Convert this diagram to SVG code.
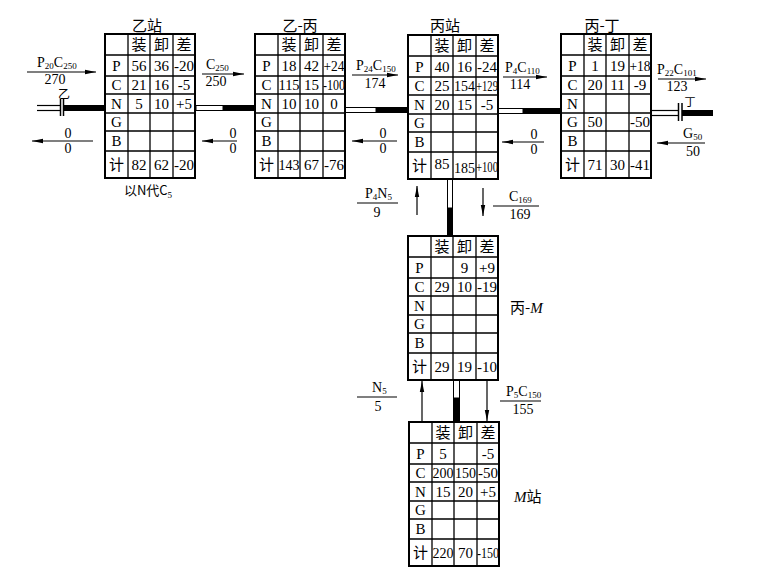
<svg xmlns="http://www.w3.org/2000/svg" xmlns:xlink="http://www.w3.org/1999/xlink" width="768" height="579" viewBox="0 0 768 579">
<style>
.outer{fill:#fff;stroke:#000;stroke-width:2}
.inner{fill:none;stroke:#000;stroke-width:1.3}
text{font-family:"Liberation Serif","Noto Sans CJK SC",serif;fill:#000}
.t{font-size:15px;text-anchor:middle}
.h{font-size:15px;text-anchor:middle;font-family:"Noto Sans CJK SC",sans-serif}
.ttl{font-size:15px;text-anchor:middle;font-family:"Noto Sans CJK SC",sans-serif}
.l{font-size:14px}
.c{text-anchor:middle}
.s{font-size:9px}
.ar{stroke:#000;stroke-width:1.2;fill:none}
.fb{stroke:#000;stroke-width:1.2}
.hol{fill:#fff;stroke:#000;stroke-width:1}
.blk{fill:#000}
.tk{stroke:#000;stroke-width:1.5}
</style>
<defs>
<marker id="ah" markerUnits="userSpaceOnUse" markerWidth="12" markerHeight="6" refX="11" refY="3" orient="auto">
<path d="M0,0.8 L11,3 L0,5.2 Z" fill="#000"/>
</marker>
<g id="grid">
<rect class="outer" x="0" y="0" width="90" height="144"/>
<path class="inner" d="M23,0V144M45,0V144M68,0V144M0,21H90M0,42H90M0,60H90M0,79H90M0,97H90M0,117H90"/>
</g>
</defs>

<g id="connectors">
<!-- main line tracks -->
<line class="fb" x1="37" y1="105.5" x2="61" y2="105.5" stroke-width="1"/>
<line class="fb" x1="37" y1="110.5" x2="61" y2="110.5" stroke-width="1"/>
<line class="tk" x1="60.5" y1="99" x2="60.5" y2="116"/>
<line class="tk" x1="63.5" y1="99" x2="63.5" y2="116"/>
<rect class="blk" x="63" y="105" width="42" height="6"/>

<rect class="hol" x="196" y="105.5" width="27" height="5"/>
<rect class="blk" x="223" y="105" width="32" height="6"/>

<rect class="hol" x="345" y="107.5" width="31" height="5"/>
<rect class="blk" x="376" y="107" width="32" height="6"/>

<rect class="hol" x="498" y="108.5" width="25" height="5"/>
<rect class="blk" x="523" y="108" width="38" height="6"/>

<line class="fb" x1="651" y1="110.5" x2="679" y2="110.5" stroke-width="1"/>
<line class="fb" x1="651" y1="115.5" x2="679" y2="115.5" stroke-width="1"/>
<line class="tk" x1="678.5" y1="103" x2="678.5" y2="121"/>
<line class="tk" x1="682" y1="103" x2="682" y2="121"/>
<rect class="blk" x="682" y="110" width="31" height="6"/>

<!-- vertical tracks -->
<rect class="hol" x="447.5" y="179" width="5" height="29"/>
<rect class="blk" x="447" y="208" width="6" height="28"/>
<rect class="hol" x="453.5" y="380" width="6" height="18"/>
<rect class="blk" x="453" y="398" width="7" height="24"/>

<!-- horizontal flow arrows -->
<line class="ar" x1="27" y1="72" x2="96" y2="72" marker-end="url(#ah)"/>
<line class="ar" x1="93" y1="141" x2="32" y2="141" marker-end="url(#ah)"/>
<line class="ar" x1="202" y1="74" x2="244" y2="74" marker-end="url(#ah)"/>
<line class="ar" x1="237" y1="141" x2="202" y2="141" marker-end="url(#ah)"/>
<line class="ar" x1="352" y1="75" x2="398" y2="75" marker-end="url(#ah)"/>
<line class="ar" x1="397" y1="141" x2="352" y2="141" marker-end="url(#ah)"/>
<line class="ar" x1="503" y1="77" x2="547" y2="77" marker-end="url(#ah)"/>
<line class="ar" x1="544" y1="142" x2="502" y2="142" marker-end="url(#ah)"/>
<line class="ar" x1="658" y1="79" x2="706" y2="79" marker-end="url(#ah)"/>
<line class="ar" x1="705" y1="143" x2="657" y2="143" marker-end="url(#ah)"/>

<!-- vertical flow arrows -->
<line class="ar" x1="417" y1="215" x2="417" y2="186" marker-end="url(#ah)"/>
<line class="ar" x1="483" y1="188" x2="483" y2="216" marker-end="url(#ah)"/>
<line class="ar" x1="422" y1="422" x2="422" y2="381" marker-end="url(#ah)"/>
<line class="ar" x1="487" y1="380" x2="487" y2="421" marker-end="url(#ah)"/>

<!-- fraction bars -->
<line class="fb" x1="357" y1="203" x2="398" y2="203"/>
<line class="fb" x1="493" y1="206" x2="539" y2="206"/>
<line class="fb" x1="357" y1="397" x2="397" y2="397"/>
<line class="fb" x1="500" y1="401" x2="541" y2="401"/>
</g>

<g id="flow-labels">
<text class="l" x="37" y="67">P<tspan class="s" dy="2">20</tspan><tspan dy="-2">C</tspan><tspan class="s" dy="2">250</tspan></text>
<text class="l c" x="55" y="84">270</text>
<text class="l c" x="68" y="138">0</text>
<text class="l c" x="68" y="153">0</text>

<text class="l" x="206" y="69">C<tspan class="s" dy="2">250</tspan></text>
<text class="l c" x="216" y="86">250</text>
<text class="l c" x="233" y="138">0</text>
<text class="l c" x="233" y="153">0</text>

<text class="l" x="356" y="70">P<tspan class="s" dy="2">24</tspan><tspan dy="-2">C</tspan><tspan class="s" dy="2">150</tspan></text>
<text class="l c" x="375" y="88">174</text>
<text class="l c" x="383" y="138">0</text>
<text class="l c" x="383" y="153">0</text>

<text class="l" x="505" y="72">P<tspan class="s" dy="2">4</tspan><tspan dy="-2">C</tspan><tspan class="s" dy="2">110</tspan></text>
<text class="l c" x="520" y="89">114</text>
<text class="l c" x="534" y="139">0</text>
<text class="l c" x="534" y="154">0</text>

<text class="l" x="657" y="74">P<tspan class="s" dy="2">22</tspan><tspan dy="-2">C</tspan><tspan class="s" dy="2">101</tspan></text>
<text class="l c" x="677" y="91">123</text>
<text class="l" x="683" y="138">G<tspan class="s" dy="2">50</tspan></text>
<text class="l c" x="693" y="156">50</text>

<text class="l" x="365" y="198">P<tspan class="s" dy="2">4</tspan><tspan dy="-2">N</tspan><tspan class="s" dy="2">5</tspan></text>
<text class="l c" x="377" y="217">9</text>
<text class="l" x="509" y="201">C<tspan class="s" dy="2">169</tspan></text>
<text class="l c" x="520" y="219">169</text>

<text class="l" x="372" y="392">N<tspan class="s" dy="2">5</tspan></text>
<text class="l c" x="378" y="411">5</text>
<text class="l" x="506" y="396">P<tspan class="s" dy="2">5</tspan><tspan dy="-2">C</tspan><tspan class="s" dy="2">150</tspan></text>
<text class="l c" x="523" y="414">155</text>

<text class="ttl" x="64" y="99" style="font-size:12px">乙</text>
<text class="ttl" x="690" y="106" style="font-size:11px">丁</text>
</g>

<g id="node-yi">
<text class="ttl" x="147" y="31">乙站</text>
<g transform="translate(105,34)">
<use xlink:href="#grid"/>
<text class="h" x="34" y="16">装</text><text class="h" x="56.5" y="16">卸</text><text class="h" x="79" y="16">差</text>
<text class="t" x="11.5" y="37">P</text><text class="t" x="11.5" y="56">C</text><text class="t" x="11.5" y="75">N</text><text class="t" x="11.5" y="93">G</text><text class="t" x="11.5" y="112">B</text><text class="h" x="11.5" y="136">计</text>
<text class="t" x="34" y="37">56</text><text class="t" x="56.5" y="37">36</text><text class="t" x="79" y="37">-20</text>
<text class="t" x="34" y="56">21</text><text class="t" x="56.5" y="56">16</text><text class="t" x="79" y="56">-5</text>
<text class="t" x="34" y="75">5</text><text class="t" x="56.5" y="75">10</text><text class="t" x="79" y="75">+5</text>
<text class="t" x="34" y="136">82</text><text class="t" x="56.5" y="136">62</text><text class="t" x="79" y="136">-20</text>
</g>
<text class="ttl" x="148" y="195" style="font-size:13px">以N代C<tspan class="s" dy="3" style="font-family:'Liberation Serif',serif">5</tspan></text>
</g>

<g id="node-yi-bing">
<text class="ttl" x="300" y="31">乙-丙</text>
<g transform="translate(255,34)">
<use xlink:href="#grid"/>
<text class="h" x="34" y="16">装</text><text class="h" x="56.5" y="16">卸</text><text class="h" x="79" y="16">差</text>
<text class="t" x="11.5" y="37">P</text><text class="t" x="11.5" y="56">C</text><text class="t" x="11.5" y="75">N</text><text class="t" x="11.5" y="93">G</text><text class="t" x="11.5" y="112">B</text><text class="h" x="11.5" y="136">计</text>
<text class="t" x="34" y="37">18</text><text class="t" x="56.5" y="37">42</text><text class="t" x="79" y="37" textLength="21" lengthAdjust="spacingAndGlyphs">+24</text>
<text class="t" x="34" y="56" textLength="21" lengthAdjust="spacingAndGlyphs">115</text><text class="t" x="56.5" y="56">15</text><text class="t" x="79" y="56" textLength="22" lengthAdjust="spacingAndGlyphs">-100</text>
<text class="t" x="34" y="75">10</text><text class="t" x="56.5" y="75">10</text><text class="t" x="79" y="75">0</text>
<text class="t" x="34" y="136" textLength="21" lengthAdjust="spacingAndGlyphs">143</text><text class="t" x="56.5" y="136">67</text><text class="t" x="79" y="136">-76</text>
</g>
</g>

<g id="node-bing">
<text class="ttl" x="445" y="31">丙站</text>
<g transform="translate(408,35)">
<use xlink:href="#grid"/>
<text class="h" x="34" y="16">装</text><text class="h" x="56.5" y="16">卸</text><text class="h" x="79" y="16">差</text>
<text class="t" x="11.5" y="37">P</text><text class="t" x="11.5" y="56">C</text><text class="t" x="11.5" y="75">N</text><text class="t" x="11.5" y="93">G</text><text class="t" x="11.5" y="112">B</text><text class="h" x="11.5" y="136">计</text>
<text class="t" x="34" y="37">40</text><text class="t" x="56.5" y="37">16</text><text class="t" x="79" y="37">-24</text>
<text class="t" x="34" y="56">25</text><text class="t" x="56.5" y="56" textLength="21" lengthAdjust="spacingAndGlyphs">154</text><text class="t" x="79" y="56" textLength="22" lengthAdjust="spacingAndGlyphs">+129</text>
<text class="t" x="34" y="75">20</text><text class="t" x="56.5" y="75">15</text><text class="t" x="79" y="75">-5</text>
<text class="t" x="34" y="134">85</text><text class="t" x="56.5" y="138" textLength="21" lengthAdjust="spacingAndGlyphs">185</text><text class="t" x="79" y="137" textLength="22" lengthAdjust="spacingAndGlyphs">+100</text>
</g>
</g>

<g id="node-bing-ding">
<text class="ttl" x="602" y="31">丙-丁</text>
<g transform="translate(561,34)">
<use xlink:href="#grid"/>
<text class="h" x="34" y="16">装</text><text class="h" x="56.5" y="16">卸</text><text class="h" x="79" y="16">差</text>
<text class="t" x="11.5" y="37">P</text><text class="t" x="11.5" y="56">C</text><text class="t" x="11.5" y="75">N</text><text class="t" x="11.5" y="93">G</text><text class="t" x="11.5" y="112">B</text><text class="h" x="11.5" y="136">计</text>
<text class="t" x="34" y="37">1</text><text class="t" x="56.5" y="37">19</text><text class="t" x="79" y="37" textLength="21" lengthAdjust="spacingAndGlyphs">+18</text>
<text class="t" x="34" y="56">20</text><text class="t" x="56.5" y="56">11</text><text class="t" x="79" y="56">-9</text>
<text class="t" x="34" y="93">50</text><text class="t" x="79" y="93">-50</text>
<text class="t" x="34" y="136">71</text><text class="t" x="56.5" y="136">30</text><text class="t" x="79" y="136">-41</text>
</g>
</g>

<g id="node-bing-M">
<g transform="translate(408,236)">
<use xlink:href="#grid"/>
<text class="h" x="34" y="16">装</text><text class="h" x="56.5" y="16">卸</text><text class="h" x="79" y="16">差</text>
<text class="t" x="11.5" y="37">P</text><text class="t" x="11.5" y="56">C</text><text class="t" x="11.5" y="75">N</text><text class="t" x="11.5" y="93">G</text><text class="t" x="11.5" y="112">B</text><text class="h" x="11.5" y="136">计</text>
<text class="t" x="56.5" y="37">9</text><text class="t" x="79" y="37">+9</text>
<text class="t" x="34" y="56">29</text><text class="t" x="56.5" y="56">10</text><text class="t" x="79" y="56">-19</text>
<text class="t" x="34" y="136">29</text><text class="t" x="56.5" y="136">19</text><text class="t" x="79" y="136">-10</text>
</g>
<text class="ttl" x="510" y="313" style="text-anchor:start">丙-<tspan style="font-family:'Liberation Serif',serif;font-style:italic">M</tspan></text>
</g>

<g id="node-M">
<g transform="translate(409,422)">
<use xlink:href="#grid"/>
<text class="h" x="34" y="16">装</text><text class="h" x="56.5" y="16">卸</text><text class="h" x="79" y="16">差</text>
<text class="t" x="11.5" y="37">P</text><text class="t" x="11.5" y="56">C</text><text class="t" x="11.5" y="75">N</text><text class="t" x="11.5" y="93">G</text><text class="t" x="11.5" y="112">B</text><text class="h" x="11.5" y="136">计</text>
<text class="t" x="34" y="37">5</text><text class="t" x="79" y="37">-5</text>
<text class="t" x="34" y="56" textLength="21" lengthAdjust="spacingAndGlyphs">200</text><text class="t" x="56.5" y="56" textLength="21" lengthAdjust="spacingAndGlyphs">150</text><text class="t" x="79" y="56">-50</text>
<text class="t" x="34" y="75">15</text><text class="t" x="56.5" y="75">20</text><text class="t" x="79" y="75">+5</text>
<text class="t" x="34" y="136" textLength="21" lengthAdjust="spacingAndGlyphs">220</text><text class="t" x="56.5" y="136">70</text><text class="t" x="79" y="136" textLength="22" lengthAdjust="spacingAndGlyphs">-150</text>
</g>
<text class="ttl" x="514" y="502" style="text-anchor:start"><tspan style="font-family:'Liberation Serif',serif;font-style:italic">M</tspan>站</text>
</g>
</svg>
